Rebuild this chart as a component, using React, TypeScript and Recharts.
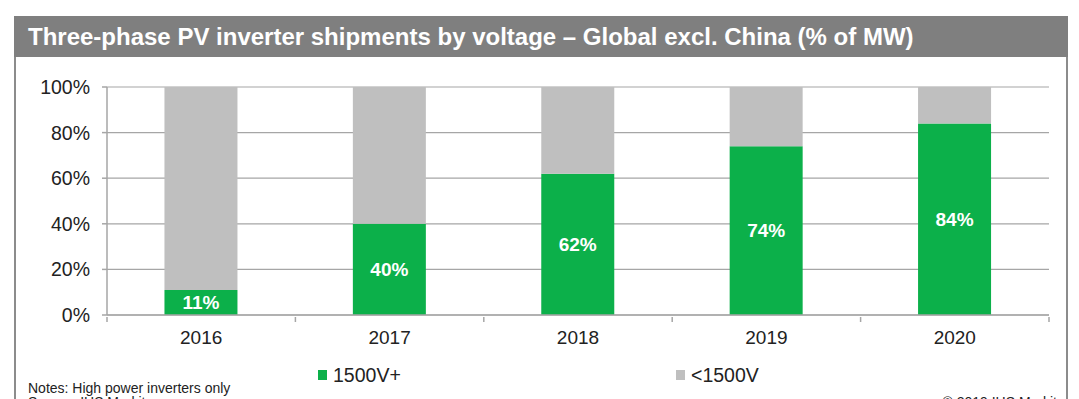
import { BarChart, Bar, XAxis, YAxis, CartesianGrid, LabelList, Legend } from 'recharts'

const YEARS = ['2016', '2017', '2018', '2019', '2020']
const HIGH_V = [11, 40, 62, 74, 84]
const LOW_V = [89, 60, 38, 26, 16]
const Y_TICKS = [0, 20, 40, 60, 80, 100]

const GREEN = '#0CB04A'
const GREY = '#BFBFBF'
const LINE = '#A6A6A6'
const FONT = '"Liberation Sans", Arial, sans-serif'

const data = YEARS.map((year, i) => ({ year, high: HIGH_V[i], low: LOW_V[i] }))

const W = 1079
const H = 399
const PLOT_LEFT = 107
const PLOT_RIGHT = 1049
const BAND = (PLOT_RIGHT - PLOT_LEFT) / YEARS.length

// year label + Excel-style tick marks between categories
function YearTick({ x, y, payload, index }: any) {
  const half = BAND / 2
  const top = y - 6
  return (
    <g>
      <line x1={x - half} x2={x - half} y1={top} y2={top + 5} stroke={LINE} strokeWidth={1.5} />
      {index === YEARS.length - 1 && (
        <line x1={x + half} x2={x + half} y1={top} y2={top + 5} stroke={LINE} strokeWidth={1.5} />
      )}
      <text x={x} y={y + 21} textAnchor="middle" fontSize={19} fill="#222" fontFamily={FONT}>
        {payload.value}
      </text>
    </g>
  )
}

function LegendBox() {
  const items = [
    { label: '1500V+', color: GREEN, left: 318 },
    { label: '<1500V', color: GREY, left: 676 },
  ]
  return (
    <div style={{ position: 'relative', height: 20 }}>
      {items.map((it) => (
        <span
          key={it.label}
          style={{ position: 'absolute', left: it.left, top: 0, display: 'flex', alignItems: 'center', fontSize: 19.5, color: '#222', lineHeight: '20px' }}
        >
          <i style={{ display: 'inline-block', width: 9, height: 10, background: it.color, marginRight: 6 }} />
          {it.label}
        </span>
      ))}
    </div>
  )
}

export default function App() {
  return (
    <div style={{ position: 'absolute', left: 0, top: 0, width: W, height: H, overflow: 'hidden', background: '#fff', fontFamily: FONT }}>
      {/* frame */}
      <div style={{ position: 'absolute', left: 14, top: 16, width: 1054, height: 400, borderLeft: '2px solid #8c8c8c', borderRight: '2px solid #8c8c8c', boxSizing: 'border-box' }} />
      <div
        style={{
          position: 'absolute',
          left: 14,
          top: 16,
          width: 1054,
          height: 41,
          background: '#7F7F7F',
          color: '#fff',
          fontWeight: 'bold',
          fontSize: 24,
          lineHeight: '41px',
          paddingLeft: 14,
          boxSizing: 'border-box',
          whiteSpace: 'nowrap',
        }}
      >
        Three-phase PV inverter shipments by voltage – Global excl. China (% of MW)
      </div>
      <div style={{ position: 'absolute', left: 0, top: 0 }}>
        <BarChart width={W} height={H} data={data} margin={{ top: 87, right: W - PLOT_RIGHT, bottom: 34, left: PLOT_LEFT - 62 }} barCategoryGap="30.5%">
          <CartesianGrid vertical={false} stroke={LINE} strokeWidth={1.2} />
          <XAxis dataKey="year" axisLine={{ stroke: LINE, strokeWidth: 1.5 }} tickLine={false} tick={<YearTick />} height={30} interval={0} />
          <YAxis
            width={62}
            domain={[0, 100]}
            ticks={Y_TICKS}
            tickFormatter={(v: number) => `${v}%`}
            axisLine={{ stroke: LINE, strokeWidth: 1.5 }}
            tickLine={{ stroke: LINE, strokeWidth: 1.5 }}
            tickSize={5}
            tickMargin={12}
            tick={{ fontSize: 19.5, fill: '#222', fontFamily: FONT }}
          />
          <Legend verticalAlign="bottom" height={20} wrapperStyle={{ left: 0, top: 365, width: W }} content={<LegendBox />} />
          <Bar dataKey="high" name="1500V+" stackId="a" fill={GREEN} isAnimationActive={false}>
            <LabelList dataKey="high" position="center" formatter={(v: any) => `${v}%`} fill="#fff" fontSize={19} fontWeight="bold" fontFamily={FONT} />
          </Bar>
          <Bar dataKey="low" name="<1500V" stackId="a" fill={GREY} isAnimationActive={false} />
        </BarChart>
      </div>
      <div style={{ position: 'absolute', left: 28, top: 380, fontSize: 14, color: '#222' }}>Notes: High power inverters only</div>
      <div style={{ position: 'absolute', left: 28, top: 394, fontSize: 14, color: '#222' }}>Source: IHS Markit</div>
      <div style={{ position: 'absolute', right: 22, top: 394, fontSize: 14, color: '#222' }}>© 2019 IHS Markit</div>
    </div>
  )
}
